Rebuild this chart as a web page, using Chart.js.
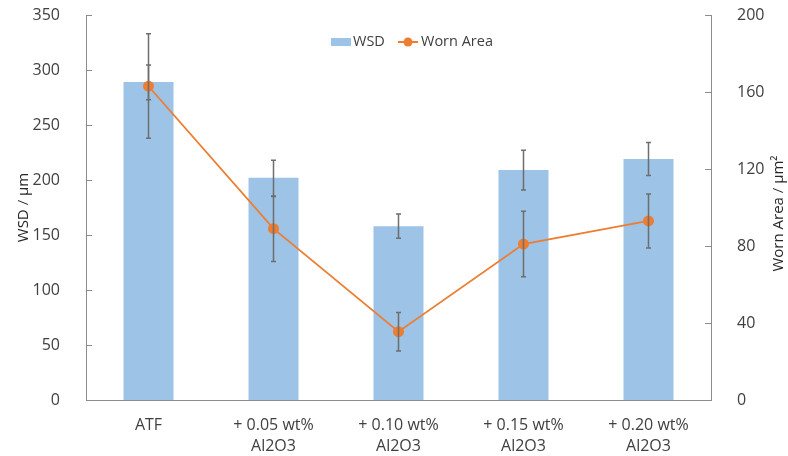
<!DOCTYPE html>
<html>
<head>
<meta charset="utf-8">
<script src="https://cdn.jsdelivr.net/npm/chart.js@4.4.1/dist/chart.umd.min.js"></script>
<style>
  html, body { margin: 0; padding: 0; background: #fff; }
  #wrap { width: 788px; height: 456px; }
</style>
</head>
<body>
<div id="wrap"><canvas id="chart" width="788" height="456"></canvas></div>
<script>
// data
const categories = [["ATF"], ["+ 0.05 wt%", "Al2O3"], ["+ 0.10 wt%", "Al2O3"], ["+ 0.15 wt%", "Al2O3"], ["+ 0.20 wt%", "Al2O3"]];
const wsd = [289, 202, 158, 209, 219];
const wsdErrUp = [44, 16, 11, 18, 15];
const wsdErrDown = [51, 17, 11, 18, 15];
const wornArea = [163, 89, 35.5, 81, 93];
const wornErrUp = [11, 17, 10, 17, 14];
const wornErrDown = [7, 17, 10, 17, 14];
const leftTicks = [0, 50, 100, 150, 200, 250, 300, 350];
const rightTicks = [0, 40, 80, 120, 160, 200];

const BAR = "#9DC3E6";
const LINE = "#ED7D31";
const AXIS = "#8C8C8C";
const TEXT = "#404040";
const FONT = "'Open Sans', Lato, sans-serif";

function drawErrors(chart, scaleId, vals, up, down) {
    const ctx = chart.ctx;
    const x = chart.scales.x;
    const y = chart.scales[scaleId];
    ctx.save();
    ctx.strokeStyle = "#6E6E6E";
    ctx.lineWidth = 1.5;
    vals.forEach((v, i) => {
        const px = x.getPixelForValue(i);
        const top = y.getPixelForValue(v + up[i]);
        const bot = y.getPixelForValue(v - down[i]);
        ctx.beginPath();
        ctx.moveTo(px, top); ctx.lineTo(px, bot);
        ctx.moveTo(px - 2.5, top); ctx.lineTo(px + 2.5, top);
        ctx.moveTo(px - 2.5, bot); ctx.lineTo(px + 2.5, bot);
        ctx.stroke();
    });
    ctx.restore();
}

const extras = {
    id: "extras",
    afterDatasetDraw(chart, args) {
        if (args.index === 0) drawErrors(chart, "y", wsd, wsdErrUp, wsdErrDown);
        if (args.index === 1) drawErrors(chart, "y1", wornArea, wornErrUp, wornErrDown);
    },
    afterDraw(chart) {
        const ctx = chart.ctx;
        const area = chart.chartArea;
        ctx.save();
        // inward tick marks
        ctx.strokeStyle = AXIS;
        ctx.lineWidth = 1;
        ctx.beginPath();
        leftTicks.forEach(t => {
            const py = Math.round(chart.scales.y.getPixelForValue(t)) + 0.5;
            ctx.moveTo(area.left, py); ctx.lineTo(area.left + 6, py);
        });
        rightTicks.forEach(t => {
            const py = Math.round(chart.scales.y1.getPixelForValue(t)) + 0.5;
            ctx.moveTo(area.right, py); ctx.lineTo(area.right - 6, py);
        });
        ctx.stroke();

        // axis titles
        ctx.fillStyle = "#262626";
        ctx.font = "15px " + FONT;
        ctx.textAlign = "center";
        ctx.textBaseline = "middle";
        const midY = (area.top + area.bottom) / 2;
        ctx.save();
        ctx.translate(24, midY);
        ctx.rotate(-Math.PI / 2);
        ctx.fillText("WSD / \u03bcm", 0, 0);
        ctx.restore();
        ctx.save();
        ctx.translate(779, midY + 6);
        ctx.rotate(-Math.PI / 2);
        ctx.fillText("Worn Area / \u03bcm\u00b2", 0, 0);
        ctx.restore();

        // legend
        const ly = area.top + 27;
        ctx.fillStyle = BAR;
        ctx.fillRect(331, ly - 4, 20, 8);
        ctx.strokeStyle = LINE;
        ctx.lineWidth = 2;
        ctx.beginPath();
        ctx.moveTo(398, ly); ctx.lineTo(418, ly);
        ctx.stroke();
        ctx.fillStyle = LINE;
        ctx.beginPath();
        ctx.arc(408, ly, 4.5, 0, Math.PI * 2);
        ctx.fill();
        ctx.fillStyle = TEXT;
        ctx.textAlign = "left";
        ctx.font = "14.5px " + FONT;
        ctx.fillText("WSD", 353, ly);
        ctx.fillText("Worn Area", 421, ly);
        ctx.restore();
    }
};

function fixY(width) {
    return s => {
        s.width = width;
        s.paddingTop = 0;
        s.paddingBottom = 0;
    };
}

new Chart(document.getElementById("chart").getContext("2d"), {
    type: "bar",
    data: {
        labels: categories,
        datasets: [
            {
                label: "WSD",
                data: wsd,
                backgroundColor: BAR,
                yAxisID: "y",
                barPercentage: 0.4,
                categoryPercentage: 1,
                order: 2
            },
            {
                type: "line",
                label: "Worn Area",
                data: wornArea,
                borderColor: LINE,
                backgroundColor: LINE,
                borderWidth: 1.8,
                pointRadius: 5.5,
                pointBorderWidth: 0,
                yAxisID: "y1",
                tension: 0,
                order: 1
            }
        ]
    },
    options: {
        responsive: false,
        animation: false,
        layout: { padding: { top: 15, left: 0, right: 0, bottom: 0 } },
        plugins: {
            legend: { display: false },
            tooltip: { enabled: false }
        },
        scales: {
            x: {
                offset: true,
                grid: { display: false },
                border: { display: true, color: AXIS },
                ticks: { color: TEXT, font: { size: 16, family: FONT, lineHeight: 1.31 }, padding: 7, maxRotation: 0 },
                afterFit(s) { s.height = 56; s.paddingLeft = 0; s.paddingRight = 0; }
            },
            y: {
                position: "left",
                min: 0, max: 350,
                grid: { display: false },
                border: { display: true, color: AXIS },
                ticks: { stepSize: 50, color: TEXT, font: { size: 16, family: FONT }, padding: 18 },
                afterFit: fixY(86)
            },
            y1: {
                position: "right",
                min: 0, max: 200,
                grid: { display: false },
                border: { display: true, color: AXIS },
                ticks: { stepSize: 40, color: TEXT, font: { size: 16, family: FONT }, padding: 18 },
                afterFit: fixY(77)
            }
        }
    },
    plugins: [extras]
});
</script>
</body>
</html>
